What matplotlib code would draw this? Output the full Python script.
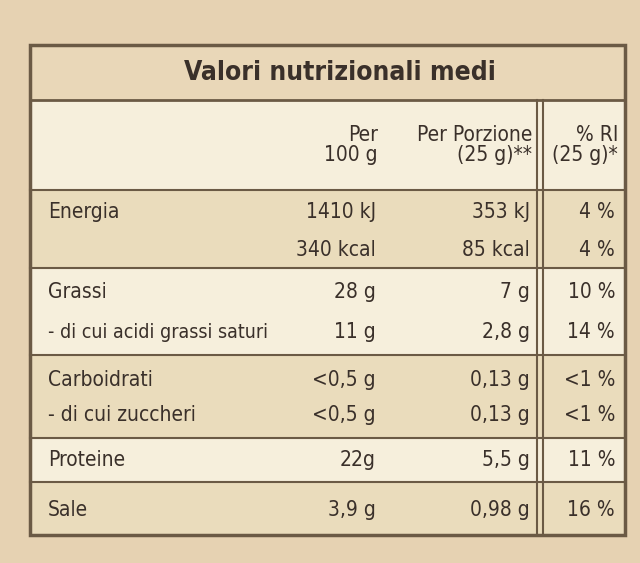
import matplotlib.pyplot as plt
from matplotlib.patches import Rectangle

plt.rcParams['font.family'] = ['DejaVu Sans']
plt.rcParams['font.stretch'] = 'condensed'

title = 'Valori nutrizionali medi'
col_headers = ['Per\n100 g', 'Per Porzione\n(25 g)**', '% RI\n(25 g)*']
nutrients = ['Energia', '', 'Grassi', '- di cui acidi grassi saturi',
             'Carboidrati', '- di cui zuccheri', 'Proteine', 'Sale']
per_100g = ['1410 kJ', '340 kcal', '28 g', '11 g', '<0,5 g', '<0,5 g', '22g', '3,9 g']
per_portion = ['353 kJ', '85 kcal', '7 g', '2,8 g', '0,13 g', '0,13 g', '5,5 g', '0,98 g']
ri = ['4 %', '4 %', '10 %', '14 %', '<1 %', '<1 %', '11 %', '16 %']

line_y = [212, 250, 292, 332, 380, 415, 460, 510]
bands = [(100, 190, '#f6efdc'), (190, 268, '#eadcbc'), (268, 355, '#f6efdc'),
         (355, 438, '#eadcbc'), (438, 482, '#f6efdc'), (482, 535, '#eadcbc')]

fig = plt.figure(figsize=(6.4, 5.63), dpi=100)
ax = fig.add_axes([0, 0, 1, 1])
ax.set_xlim(0, 640)
ax.set_ylim(563, 0)
ax.axis('off')
fig.patch.set_facecolor('#e6d2b2')

ax.add_patch(Rectangle((30, 45), 595, 55, facecolor='#e9d7b8', edgecolor='none'))
for y0, y1, c in bands:
    ax.add_patch(Rectangle((30, y0), 595, y1 - y0, facecolor=c, edgecolor='none'))
ax.add_patch(Rectangle((30, 45), 595, 490, facecolor='none', edgecolor='#6b5a45', lw=2.5))
ax.plot([30, 625], [100, 100], color='#6b5a45', lw=2)
for y0, y1, c in bands[1:]:
    ax.plot([30, 625], [y0, y0], color='#6b5a45', lw=1.5)
ax.plot([537, 537], [100, 535], color='#6b5a45', lw=1.5)
ax.plot([543, 543], [100, 535], color='#6b5a45', lw=1.5)

tc = '#3a302a'
ax.text(340, 73, title, ha='center', va='center', fontsize=19, fontweight='bold', color=tc)
for x, h in zip([378, 532, 618], col_headers):
    ax.text(x, 145, h, ha='right', va='center', fontsize=15, color=tc, linespacing=1.0)

for y, n, a, b, c in zip(line_y, nutrients, per_100g, per_portion, ri):
    ax.text(48, y, n, ha='left', va='center', fontsize=14 if len(n) > 20 else 15, color=tc)
    ax.text(376, y, a, ha='right', va='center', fontsize=15, color=tc)
    ax.text(530, y, b, ha='right', va='center', fontsize=15, color=tc)
    ax.text(615, y, c, ha='right', va='center', fontsize=15, color=tc)

fig.savefig('out.png', dpi=100)
